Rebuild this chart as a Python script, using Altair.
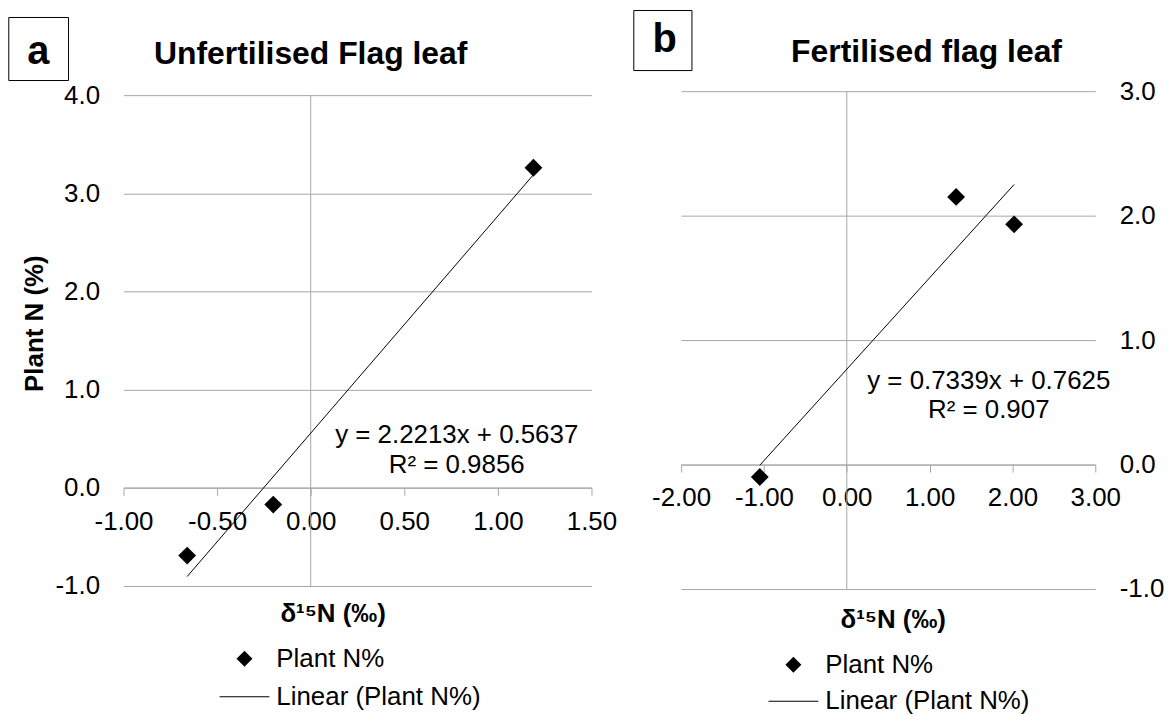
import altair as alt
import pandas as pd

FONT = "Liberation Sans, Arial, Helvetica, sans-serif"
GREY = "#a6a6a6"

# ---------------- data ----------------
a_d15n = [-0.66, -0.20, 1.19]
a_plant_n = [-0.69, -0.17, 3.26]
b_d15n = [-1.05, 1.32, 2.02]
b_plant_n = [-0.10, 2.15, 1.93]

a_equation = ["y = 2.2213x + 0.5637", "R² = 0.9856"]
b_equation = ["y = 0.7339x + 0.7625", "R² = 0.907"]

a_x_ticks = [-1.0, -0.5, 0.0, 0.5, 1.0, 1.5]
a_y_ticks = [-1.0, 0.0, 1.0, 2.0, 3.0, 4.0]
b_x_ticks = [-2.0, -1.0, 0.0, 1.0, 2.0, 3.0]
b_y_ticks = [-1.0, 0.0, 1.0, 2.0, 3.0]

series_names = ["Plant N%", "Linear (Plant N%)"]
panel_titles = ["Unfertilised Flag leaf", "Fertilised flag leaf"]
panel_letters = ["a", "b"]
x_axis_title = "δ¹⁵N (‰)"
y_axis_title = "Plant N (%)"

# legend symbols: filled diamond, and a thin filled bar standing for the trend line
LEGEND_SHAPES = ["diamond", "M-3.125,-0.06H3.125V0.06H-3.125Z"]

# ---------------- layout (pixels / annotation anchors) ----------------
LAYOUT_A = dict(width=470, height=497, xdom=[-1.0, 1.5], ydom=[-1.0, 4.04], ytop=4.0,
                xtitle_x=210, xtitle_y=134, ytitle_x=-89, ytitle_y=233,
                legend_x=108.5, legend_y=557, legend_row_pad=12.3,
                title_dx=-47, title_offset=-79.3, ylabel_pad=24,
                box=(-115.2, -55.2, -74, -10.7), letter_xy=(-85.5, -27),
                eq_x=0.78, eq_y=[0.457, 0.156], y_orient="left")
LAYOUT_B = dict(width=416, height=500, xdom=[-2.0, 3.0], ydom=[-1.0, 3.0], ytop=3.0,
                xtitle_x=212.5, xtitle_y=164, ytitle_x=None, ytitle_y=None,
                legend_x=99.8, legend_y=563, legend_row_pad=10.7,
                title_dx=38.5, title_offset=-84.4, ylabel_pad=24,
                box=(-47.5, 10.9, -81, -20.7), letter_xy=(-16.5, -39),
                eq_x=1.714, eq_y=[0.611, 0.371], y_orient="right")

TICK_FONT = 26
AXIS_TITLE_FONT = 26
LEGEND_FONT = 26
EQ_FONT = 26
TITLE_FONT = 32
LETTER_FONT = 40


def signed(fmt):
    return f"(datum.value < 0 ? '-' : '') + format(abs(datum.value), '{fmt}')"


def make_panel(xs, ys, equation, xticks, yticks, letter, title, lay, show_y_title):
    h = lay["height"]
    y0, y1 = lay["ydom"]
    zero_from_top = h * (y1 - 0.0) / (y1 - y0)
    axis_offset = zero_from_top - h

    pts = pd.DataFrame({"d15n": xs, "plant_n": ys, "series": series_names[0]})
    xscale = alt.Scale(domain=lay["xdom"], nice=False, zero=False)
    yscale = alt.Scale(domain=lay["ydom"], nice=False, zero=False)

    x_axis = alt.Axis(
        values=xticks, labelExpr=signed(".2f"), orient="bottom", offset=axis_offset,
        grid=False, domain=True, domainColor=GREY, domainWidth=1,
        ticks=True, tickColor=GREY, tickWidth=1, tickSize=7.5,
        labelFont=FONT, labelFontSize=TICK_FONT, labelColor="black", labelPadding=13,
        labelFlush=False, labelOverlap=False,
        title=x_axis_title, titleFont=FONT, titleFontSize=AXIS_TITLE_FONT, titleFontWeight="bold",
        titleColor="black", titleX=lay["xtitle_x"], titleY=lay["xtitle_y"],
        titleAlign="center", titleBaseline="alphabetic",
    )
    y_kwargs = dict(
        values=yticks, labelExpr=signed(".1f"), orient=lay["y_orient"],
        grid=True, gridColor=GREY, gridWidth=1, domain=False, ticks=False,
        labelFont=FONT, labelFontSize=TICK_FONT, labelColor="black",
        labelPadding=lay["ylabel_pad"],
        labelFlush=False, labelOverlap=False,
        labelAlign="right" if lay["y_orient"] == "left" else "left",
    )
    if show_y_title:
        y_kwargs.update(title=y_axis_title, titleFont=FONT, titleFontSize=AXIS_TITLE_FONT,
                        titleFontWeight="bold", titleColor="black",
                        titleX=lay["ytitle_x"], titleY=lay["ytitle_y"], titleAngle=270,
                        titleAlign="center", titleBaseline="middle")
    else:
        y_kwargs.update(title="")
    y_axis = alt.Axis(**y_kwargs)

    X = lambda field: alt.X(field, scale=xscale, axis=x_axis)
    Y = lambda field: alt.Y(field, scale=yscale, axis=y_axis)

    legend = alt.Legend(
        orient="none", legendX=lay["legend_x"], legendY=lay["legend_y"],
        direction="vertical", title=None, padding=0, rowPadding=lay["legend_row_pad"],
        symbolSize=256, symbolFillColor="black", symbolStrokeColor="black",
        symbolStrokeWidth=0, symbolOpacity=1, symbolOffset=0,
        labelFont=FONT, labelFontSize=LEGEND_FONT, labelColor="black", labelOffset=19,
        labelLimit=400,
    )

    points = alt.Chart(pts).mark_point(filled=True, color="black", opacity=1, size=320).encode(
        x=X("d15n:Q"),
        y=Y("plant_n:Q"),
        shape=alt.Shape(
            "series:N",
            scale=alt.Scale(domain=series_names, range=LEGEND_SHAPES),
            legend=legend,
        ),
    )

    zero_line = alt.Chart(pd.DataFrame({"d15n": [0.0], "plant_n": [y0], "top": [lay["ytop"]]})).mark_rule(
        color=GREY, strokeWidth=1
    ).encode(
        x=X("d15n:Q"),
        y=Y("plant_n:Q"),
        y2="top:Q",
    )

    trend = alt.Chart(pts).transform_regression("d15n", "plant_n").mark_line(
        color="black", strokeWidth=1
    ).encode(
        x=X("d15n:Q"),
        y=Y("plant_n:Q"),
    )

    eq_df = pd.DataFrame({"text": equation, "d15n": [lay["eq_x"]] * 2, "plant_n": lay["eq_y"]})
    eq_text = alt.Chart(eq_df).mark_text(
        font=FONT, fontSize=EQ_FONT, color="black", align="center", baseline="alphabetic"
    ).encode(
        x=X("d15n:Q"),
        y=Y("plant_n:Q"),
        text="text:N",
    )

    bx0, bx1, by0, by1 = lay["box"]
    letter_df = pd.DataFrame({"letter": [letter]})
    box = alt.Chart(letter_df).mark_rect(fill="white", stroke="black", strokeWidth=1).encode(
        x=alt.value(bx0), x2=alt.value(bx1), y=alt.value(by0), y2=alt.value(by1)
    )
    box_text = alt.Chart(letter_df).mark_text(
        font=FONT, fontSize=LETTER_FONT, fontWeight="bold", color="black", align="center",
        baseline="alphabetic"
    ).encode(
        x=alt.value(lay["letter_xy"][0]), y=alt.value(lay["letter_xy"][1]), text="letter:N"
    )

    return alt.layer(points, zero_line, trend, eq_text, box, box_text).properties(
        width=lay["width"], height=lay["height"],
        title=alt.TitleParams(
            text=title, font=FONT, fontSize=TITLE_FONT, fontWeight="bold", color="black",
            anchor="middle", frame="group", dx=lay["title_dx"],
            offset=lay["title_offset"], baseline="alphabetic",
        ),
    )


panel_a = make_panel(a_d15n, a_plant_n, a_equation, a_x_ticks, a_y_ticks,
                     panel_letters[0], panel_titles[0], LAYOUT_A, True)
panel_b = make_panel(b_d15n, b_plant_n, b_equation, b_x_ticks, b_y_ticks,
                     panel_letters[1], panel_titles[1], LAYOUT_B, False)

chart = alt.hconcat(panel_a, panel_b, spacing=90, bounds="flush").resolve_scale(
    shape="independent", x="independent", y="independent"
).resolve_legend(shape="independent").properties(padding=0).configure_view(stroke=None)

chart.save("out.html", embed_options={"renderer": "svg", "actions": False})
